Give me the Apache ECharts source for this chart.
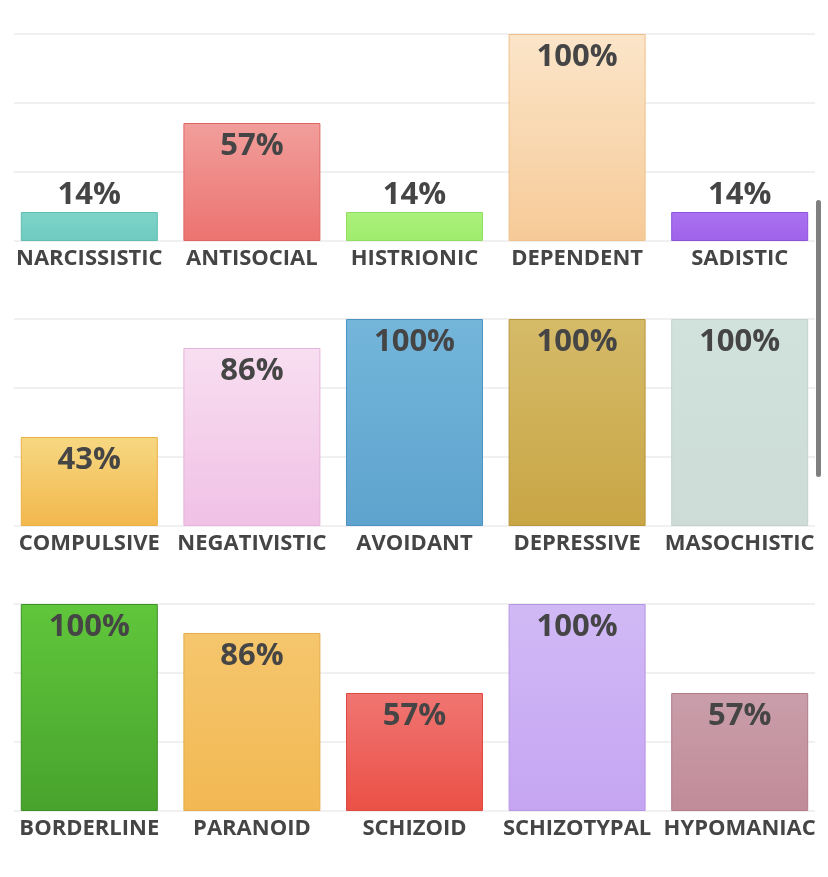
<!DOCTYPE html>
<html lang="en">
<head>
    <meta http-equiv="Content-Type" content="text/html; charset=utf-8">
    <script src="https://cdn.jsdelivr.net/npm/echarts@6/dist/echarts.min.js"></script>
    <title>Personality</title>
    <style>
        html, body { margin: 0; padding: 0; background: #fff; }
        #chart { width: 828px; height: 877px; }
    </style>
</head>
<body>
<div id="chart"></div>
<script>
// three rows of five disorders each
const row1Names = ['NARCISSISTIC', 'ANTISOCIAL', 'HISTRIONIC', 'DEPENDENT', 'SADISTIC'];
const row1Values = [14, 57, 14, 100, 14];
const row2Names = ['COMPULSIVE', 'NEGATIVISTIC', 'AVOIDANT', 'DEPRESSIVE', 'MASOCHISTIC'];
const row2Values = [43, 86, 100, 100, 100];
const row3Names = ['BORDERLINE', 'PARANOID', 'SCHIZOID', 'SCHIZOTYPAL', 'HYPOMANIAC'];
const row3Values = [100, 86, 57, 100, 57];

// [top, bottom, border] per bar
const row1Colors = [
    ['#7fd4c9', '#6fcabf', '#5fbdb2'],
    ['#f19e9b', '#ec7370', '#e06663'],
    ['#abf17c', '#9fec6e', '#90de60'],
    ['#fbe5c9', '#f6ca97', '#efc08a'],
    ['#ab72f1', '#9f62ea', '#8f52dc']
];
const row2Colors = [
    ['#f6d882', '#f2b74c', '#e9b047'],
    ['#f8def1', '#f0c1e5', '#e6b3da'],
    ['#74b6da', '#5ea3ce', '#4c93c2'],
    ['#d5ba68', '#c8a645', '#b9973a'],
    ['#d1e1db', '#cddcd6', '#c2d3cc']
];
const row3Colors = [
    ['#60c63b', '#48a32d', '#3d8f26'],
    ['#f5c66d', '#f2b853', '#e6ab48'],
    ['#f07572', '#eb5046', '#de4a42'],
    ['#d1b9f5', '#c5a5f2', '#b795e6'],
    ['#c99eaa', '#c18b99', '#b17c8a']
];

const rows = [
    [row1Names, row1Values, row1Colors],
    [row2Names, row2Values, row2Colors],
    [row3Names, row3Values, row3Colors]
];

const font = '"Open Sans", "Noto Sans", sans-serif';
const textColor = '#454545';

let grid = [], xAxis = [], yAxis = [], series = [];

rows.forEach(function (row, i) {
    const top = 34 + 285 * i;
    // bars
    grid.push({ left: 8, width: 813, top: top, height: 207 });
    // gridlines (a bit narrower than the bars)
    grid.push({ left: 14, width: 801, top: top, height: 207 });

    xAxis.push({
        gridIndex: 2 * i,
        type: 'category',
        data: row[0],
        axisLine: { show: false },
        axisTick: { show: false },
        axisLabel: {
            interval: 0,
            margin: 7,
            color: textColor,
            fontFamily: font,
            fontWeight: 'bold',
            fontSize: 22
        }
    });
    xAxis.push({ gridIndex: 2 * i + 1, type: 'category', show: false, data: row[0] });

    yAxis.push({ gridIndex: 2 * i, type: 'value', min: 0, max: 100, show: false });
    yAxis.push({
        gridIndex: 2 * i + 1,
        type: 'value',
        min: 0,
        max: 3,
        interval: 1,
        axisLabel: { show: false },
        axisLine: { show: false },
        axisTick: { show: false },
        splitLine: { lineStyle: { color: '#ebebeb', width: 1.5 } }
    });

    series.push({
        type: 'bar',
        xAxisIndex: 2 * i,
        yAxisIndex: 2 * i,
        barWidth: 137,
        data: row[1].map(function (v, j) {
            const c = row[2][j];
            return {
                value: v,
                label: { position: v < 30 ? 'top' : 'insideTop', distance: v < 30 ? 1 : 8 },
                itemStyle: {
                    color: new echarts.graphic.LinearGradient(0, 0, 0, 1, [
                        { offset: 0, color: c[0] },
                        { offset: 1, color: c[1] }
                    ]),
                    borderColor: c[2],
                    borderWidth: 1
                }
            };
        }),
        label: {
            show: true,
            formatter: '{c}%',
            color: textColor,
            fontFamily: font,
            fontWeight: 'bold',
            fontSize: 31
        },
        animation: false
    });
});

let chart = echarts.init(document.getElementById('chart'));
chart.setOption({
    animation: false,
    grid: grid,
    xAxis: xAxis,
    yAxis: yAxis,
    series: series,
    graphic: [{
        type: 'rect',
        shape: { x: 816, y: 200, width: 5, height: 277, r: 2.5 },
        style: { fill: '#7f7f7f' },
        z: 100
    }]
});
</script>
</body>
</html>
